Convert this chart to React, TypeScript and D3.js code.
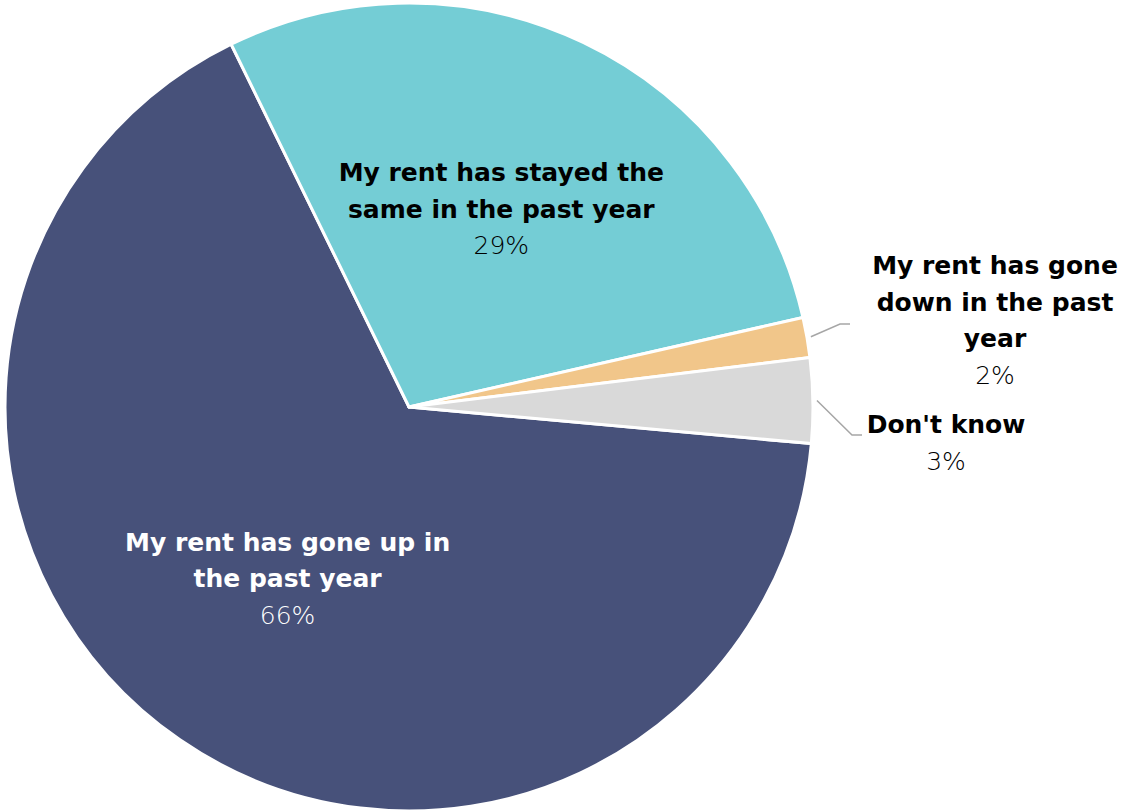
import { useEffect, useRef } from "react";
import * as d3 from "d3";

const categories = [
  "My rent has gone up in the past year",
  "My rent has stayed the same in the past year",
  "My rent has gone down in the past year",
  "Don't know",
];
const shares = [66.3, 28.7, 1.6, 3.4];
const colors = ["#47517a", "#74cdd5", "#f1c68a", "#d9d9d9"];
// wrapped label lines as shown on the chart
const labelLines = [
  ["My rent has gone up in", "the past year"],
  ["My rent has stayed the", "same in the past year"],
  ["My rent has gone", "down in the past", "year"],
  ["Don't know"],
];

export default function App() {
  const svgRef = useRef<SVGSVGElement>(null);

  useEffect(() => {
    if (!svgRef.current) return;
    const cx = 409;
    const cy = 407;
    const radius = 404;
    const font = "'DejaVu Sans', sans-serif";
    const lineH = 36.5;

    const svg = d3.select(svgRef.current);
    svg.selectAll("*").remove();

    const g = svg.append("g").attr("transform", `translate(${cx},${cy})`);

    const data = categories.map((c, i) => ({ name: c, value: shares[i], i }));

    const pie = d3
      .pie<(typeof data)[number]>()
      .sort(null)
      .value((d) => d.value)
      .startAngle((95.2 * Math.PI) / 180)
      .endAngle((95.2 * Math.PI) / 180 + 2 * Math.PI);

    const arcs = pie(data);
    const arc = d3
      .arc<d3.PieArcDatum<(typeof data)[number]>>()
      .innerRadius(0)
      .outerRadius(radius);

    g.selectAll("path.slice")
      .data(arcs)
      .enter()
      .append("path")
      .attr("class", "slice")
      .attr("d", arc)
      .attr("fill", (d) => colors[d.data.i])
      .attr("stroke", "#ffffff")
      .attr("stroke-width", 3)
      .attr("stroke-linejoin", "round");

    const pctText = (v: number) => `${Math.round(v)}%`;

    const drawLabel = (
      x: number,
      y: number,
      lines: string[],
      pct: string,
      fill: string
    ) => {
      const t = g
        .append("text")
        .attr("text-anchor", "middle")
        .attr("font-family", font)
        .attr("font-size", 25)
        .attr("fill", fill);
      lines.forEach((l, k) => {
        t.append("tspan")
          .attr("x", x)
          .attr("y", y + k * lineH)
          .attr("font-weight", 700)
          .text(l);
      });
      t.append("tspan")
        .attr("x", x)
        .attr("y", y + lines.length * lineH)
        .attr("font-weight", 200)
        .text(pct);
    };

    // inside labels at centroid-ish radius
    const inner = d3
      .arc<d3.PieArcDatum<(typeof data)[number]>>()
      .innerRadius(radius * 0.53)
      .outerRadius(radius * 0.53);

    [0, 1].forEach((i) => {
      const a = arcs[i];
      const [x, y] = inner.centroid(a);
      const lines = labelLines[i];
      const total = lines.length + 1;
      const y0 = y - ((total - 1) * lineH) / 2 + 4;
      drawLabel(x, y0, lines, pctText(a.data.value), i === 0 ? "#ffffff" : "#000000");
    });

    // outside labels with leader lines
    const outsideLabel = [
      { i: 2, lx: 586, ly: -133, elbowX: 431, elbowY: -83, endX: 441 },
      { i: 3, lx: 537, ly: 26, elbowX: 443, elbowY: 28, endX: 453 },
    ];
    outsideLabel.forEach((o) => {
      const a = arcs[o.i];
      const mid = (a.startAngle + a.endAngle) / 2;
      const r0 = radius + 4;
      const sx = r0 * Math.sin(mid);
      const sy = -r0 * Math.cos(mid);
      g.append("polyline")
        .attr("points", `${sx},${sy} ${o.elbowX},${o.elbowY} ${o.endX},${o.elbowY}`)
        .attr("fill", "none")
        .attr("stroke", "#a6a6a6")
        .attr("stroke-width", 1.5);
      drawLabel(o.lx, o.ly, labelLines[o.i], pctText(a.data.value), "#000000");
    });
  }, []);

  return (
    <div style={{ position: "fixed", left: 0, top: 0, width: 1123, height: 811, background: "#fff" }}>
      <svg ref={svgRef} width={1123} height={811} viewBox="0 0 1123 811" style={{ display: "block" }} />
    </div>
  );
}
